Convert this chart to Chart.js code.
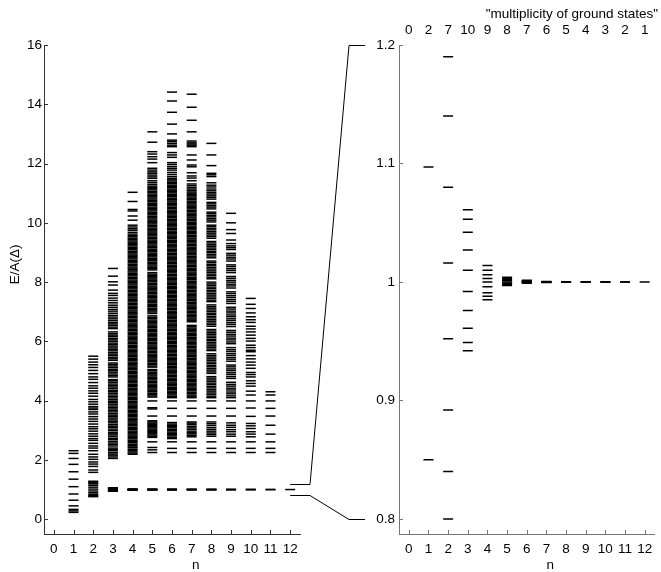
<!DOCTYPE html>
<html>
<head>
<meta charset="utf-8">
<script src="https://cdn.jsdelivr.net/npm/chart.js@4.4.0/dist/chart.umd.min.js"></script>
<style>
  html, body { margin: 0; padding: 0; background: #fff; }
  #wrap { position: relative; width: 661px; height: 572px; }
  #wrap canvas { position: absolute; left: 0; top: 0; }
</style>
</head>
<body>
<div id="wrap">
  <canvas id="full" width="661" height="572"></canvas>
  <canvas id="zoom" width="661" height="572"></canvas>
</div>
<script>
// n (number of particles) and the labels along the axes
const nTicks = [0, 1, 2, 3, 4, 5, 6, 7, 8, 9, 10, 11, 12];
const multiplicity = [0, 2, 7, 10, 9, 8, 7, 6, 5, 4, 3, 2, 1];
const fullTicks = [0, 2, 4, 6, 8, 10, 12, 14, 16];
const zoomTicks = [0.8, 0.9, 1, 1.1, 1.2];

// energy levels E/A(Delta) for each n
const lv0 = [];
const lv1 = [0.23, 0.28, 0.33, 0.45, 0.64, 0.85, 1.097, 1.35, 1.60, 1.85, 2.05, 2.22, 2.31];
const lv2 = [0.76, 0.78, 0.80, 0.84, 0.892, 0.952, 1.016, 1.08, 1.14, 1.19, 1.22, 1.25, 1.28,
  1.58, 1.66, 1.78, 1.86, 1.93, 2.02, 2.10, 2.19, 2.31, 2.40, 2.47, 2.56, 2.66, 2.72, 2.80, 2.88,
  2.97, 3.05, 3.12, 3.21, 3.30, 3.38, 3.46, 3.55, 3.62, 3.70, 3.75, 3.80, 3.88, 3.96, 4.04, 4.15,
  4.25, 4.33, 4.42, 4.50, 4.61, 4.72, 4.80, 4.91, 5.02, 5.12, 5.21, 5.30, 5.40, 5.50];
const lv3 = [0.942, 0.949, 0.961, 0.976, 0.992, 1.010, 1.027, 1.042, 1.053, 1.061,
  2.05, 2.10, 2.16, 2.20, 2.25, 2.31, 2.36, 2.40, 2.47, 2.52, 2.57, 2.62, 2.68, 2.72, 2.78, 2.84,
  2.88, 2.93, 2.99, 3.04, 3.10, 3.14, 3.19, 3.25, 3.30, 3.35, 3.41, 3.46, 3.51, 3.56, 3.62, 3.67,
  3.72, 3.77, 3.82, 3.88, 3.93, 3.98, 4.03, 4.09, 4.14, 4.19, 4.25, 4.30, 4.35, 4.41, 4.46, 4.51,
  4.56, 4.62, 4.67, 4.71, 4.80, 4.85, 4.90, 4.96, 5.01, 5.06, 5.12, 5.17, 5.22, 5.27, 5.36, 5.41,
  5.46, 5.52, 5.57, 5.62, 5.68, 5.73, 5.78, 5.84, 5.89, 5.94, 6.00, 6.05, 6.10, 6.16, 6.21, 6.26,
  6.32, 6.43, 6.48, 6.54, 6.59, 6.64, 6.70, 6.76, 6.82, 6.88, 6.95, 7.02, 7.08, 7.15, 7.22, 7.30,
  7.38, 7.46, 7.55, 7.62, 7.73, 7.90, 8.01, 8.20, 8.46];
const lv4 = [0.985, 0.988, 0.991, 0.996, 1.0, 1.003, 1.006, 1.010, 1.014,
  2.19, 2.23, 2.27, 2.32, 2.36, 2.41, 2.44, 2.49, 2.53, 2.58, 2.62, 2.66, 2.71, 2.75, 2.80, 2.84,
  2.88, 2.93, 2.97, 3.02, 3.06, 3.10, 3.15, 3.19, 3.24, 3.28, 3.32, 3.37, 3.41, 3.46, 3.50, 3.54,
  3.59, 3.63, 3.67, 3.72, 3.76, 3.81, 3.85, 3.89, 3.94, 3.98, 4.03, 4.07, 4.11, 4.16, 4.20, 4.25,
  4.29, 4.33, 4.38, 4.42, 4.47, 4.51, 4.55, 4.60, 4.64, 4.69, 4.73, 4.77, 4.82, 4.86, 4.91, 4.95,
  4.99, 5.04, 5.08, 5.13, 5.17, 5.21, 5.26, 5.30, 5.35, 5.39, 5.43, 5.48, 5.52, 5.57, 5.61, 5.65,
  5.70, 5.74, 5.79, 5.83, 5.87, 5.92, 5.96, 6.01, 6.05, 6.09, 6.14, 6.18, 6.23, 6.27, 6.31, 6.36,
  6.40, 6.45, 6.49, 6.53, 6.58, 6.62, 6.67, 6.71, 6.75, 6.80, 6.84, 6.89, 6.93, 6.97, 7.02, 7.06,
  7.11, 7.15, 7.19, 7.24, 7.28, 7.33, 7.37, 7.41, 7.46, 7.50, 7.55, 7.59, 7.63, 7.68, 7.72, 7.77,
  7.81, 7.85, 7.90, 7.94, 7.99, 8.03, 8.07, 8.12, 8.16, 8.21, 8.25, 8.29, 8.34, 8.38, 8.43, 8.47,
  8.51, 8.56, 8.60, 8.65, 8.69, 8.73, 8.78, 8.82, 8.87, 8.91, 8.95, 9.00, 9.04, 9.09, 9.13, 9.17,
  9.22, 9.26, 9.31, 9.35, 9.39, 9.44, 9.48, 9.53, 9.57, 9.62, 9.68, 9.75, 9.80, 9.86, 9.92,
  10.09, 10.23, 10.40, 10.45, 10.72, 11.03];
const lv5 = [0.997, 0.998, 0.999, 1.0, 1.001, 1.002, 1.003, 1.004,
  2.25, 2.34, 2.42, 2.61, 2.76, 2.80, 2.84, 2.88, 2.92, 2.96, 3.00, 3.04, 3.08, 3.12, 3.16, 3.20,
  3.24, 3.28, 3.32, 3.48, 3.72, 3.76, 3.99,
  4.12, 4.16, 4.21, 4.25, 4.30, 4.34, 4.39, 4.43, 4.47, 4.52, 4.56, 4.61, 4.65, 4.70, 4.74, 4.78,
  4.83, 4.87, 4.92, 4.96, 5.01, 5.05, 5.13, 5.17, 5.22, 5.26, 5.31, 5.35, 5.40, 5.44, 5.48, 5.53,
  5.57, 5.62, 5.66, 5.71, 5.75, 5.79, 5.84, 5.88, 5.93, 5.97, 6.02, 6.06, 6.10, 6.15, 6.19, 6.24,
  6.28, 6.33, 6.37, 6.41, 6.46, 6.50, 6.55, 6.59, 6.64, 6.68, 6.72, 6.77, 6.81, 6.86, 6.94, 6.99,
  7.03, 7.08, 7.12, 7.17, 7.21, 7.25, 7.30, 7.34, 7.39, 7.43, 7.48, 7.52, 7.56, 7.61, 7.65, 7.70,
  7.74, 7.79, 7.83, 7.87, 7.92, 7.96, 8.01, 8.05, 8.10, 8.14, 8.18, 8.23, 8.27, 8.32, 8.41, 8.45,
  8.49, 8.54, 8.58, 8.63, 8.67, 8.72, 8.76, 8.80, 8.85, 8.89, 8.94, 8.98, 9.03, 9.07, 9.11, 9.16,
  9.20, 9.25, 9.29, 9.34, 9.38, 9.42, 9.47, 9.51, 9.56, 9.60, 9.65, 9.69, 9.73, 9.78, 9.82, 9.87,
  9.91, 9.96, 10.00, 10.04, 10.09, 10.13, 10.18, 10.22, 10.27, 10.31, 10.35, 10.40, 10.44, 10.49,
  10.53, 10.58, 10.62, 10.66, 10.71, 10.75, 10.80, 10.84, 10.89, 10.93, 10.97, 11.02, 11.06, 11.11,
  11.15, 11.20, 11.24, 11.30, 11.36, 11.42, 11.50, 11.55, 11.61, 11.67, 11.72, 11.78, 11.84,
  12.03, 12.15, 12.23, 12.32, 12.40, 12.72, 13.07];
const lv6 = [0.999, 0.9995, 1.0, 1.0002, 1.0005, 1.001, 1.0015,
  2.25, 2.39, 2.61, 2.72, 2.76, 2.81, 2.85, 2.90, 2.94, 2.99, 3.03, 3.08, 3.12, 3.17, 3.21, 3.26,
  3.48, 3.74, 3.99,
  4.10, 4.14, 4.19, 4.23, 4.28, 4.32, 4.37, 4.41, 4.45, 4.50, 4.54, 4.59, 4.63, 4.68, 4.72, 4.76,
  4.81, 4.85, 4.90, 4.94, 4.99, 5.03, 5.07, 5.12, 5.16, 5.21, 5.25, 5.30, 5.34, 5.38, 5.43, 5.47,
  5.52, 5.56, 5.61, 5.65, 5.69, 5.74, 5.78, 5.83, 5.87, 5.92, 5.96, 6.00, 6.05, 6.09, 6.14, 6.18,
  6.23, 6.27, 6.31, 6.36, 6.40, 6.45, 6.49, 6.54, 6.58, 6.62, 6.67, 6.71, 6.76, 6.80, 6.85, 6.89,
  6.93, 6.98, 7.02, 7.07, 7.11, 7.16, 7.20, 7.24, 7.29, 7.33, 7.38, 7.42, 7.47, 7.51, 7.55, 7.60,
  7.64, 7.69, 7.73, 7.78, 7.82, 7.86, 7.91, 7.95, 8.00, 8.04, 8.09, 8.13, 8.17, 8.22, 8.26, 8.31,
  8.35, 8.40, 8.44, 8.48, 8.53, 8.57, 8.62, 8.66, 8.71, 8.75, 8.79, 8.84, 8.88, 8.93, 8.97, 9.02,
  9.06, 9.10, 9.15, 9.19, 9.24, 9.28, 9.33, 9.37, 9.41, 9.46, 9.50, 9.55, 9.59, 9.64, 9.68, 9.72,
  9.77, 9.81, 9.86, 9.90, 9.95, 9.99, 10.03, 10.08, 10.12, 10.17, 10.21, 10.26, 10.30, 10.34,
  10.39, 10.43, 10.48, 10.52, 10.57, 10.61, 10.65, 10.70, 10.74, 10.79, 10.83, 10.88, 10.92,
  10.96, 11.01, 11.05, 11.10, 11.14, 11.19, 11.23, 11.27, 11.32, 11.36, 11.41, 11.45, 11.50,
  11.56, 11.63, 11.70, 11.78, 11.84, 11.90, 11.97, 12.03, 12.21, 12.29, 12.37, 12.57, 12.62,
  12.68, 12.74, 12.79, 13.00, 13.33, 13.73, 14.11, 14.41];
const lv7 = [0.9995, 0.9998, 1.0, 1.0001, 1.0002, 1.0005,
  2.25, 2.39, 2.61, 2.78, 2.83, 2.88, 2.92, 2.97, 3.03, 3.08, 3.13, 3.19, 3.24, 3.28, 3.48, 3.74,
  3.99,
  4.10, 4.15, 4.19, 4.24, 4.28, 4.33, 4.37, 4.41, 4.46, 4.50, 4.55, 4.59, 4.64, 4.68, 4.72, 4.77,
  4.81, 4.86, 4.90, 4.95, 4.99, 5.03, 5.08, 5.12, 5.17, 5.21, 5.26, 5.30, 5.34, 5.39, 5.43, 5.48,
  5.52, 5.57, 5.61, 5.65, 5.70, 5.74, 5.79, 5.83, 5.88, 5.92, 5.96, 6.01, 6.05, 6.10, 6.14, 6.19,
  6.23, 6.27, 6.32, 6.36, 6.41, 6.45, 6.50, 6.54, 6.66, 6.70, 6.75, 6.79, 6.84, 6.88, 6.92, 6.97,
  7.01, 7.06, 7.10, 7.15, 7.19, 7.23, 7.28, 7.32, 7.37, 7.41, 7.46, 7.50, 7.54, 7.59, 7.63, 7.68,
  7.72, 7.77, 7.81, 7.85, 7.90, 7.94, 7.99, 8.03, 8.08, 8.12, 8.16, 8.21, 8.25, 8.30, 8.34, 8.39,
  8.43, 8.47, 8.52, 8.56, 8.61, 8.65, 8.70, 8.74, 8.78, 8.83, 8.87, 8.92, 8.96, 9.01, 9.05, 9.09,
  9.14, 9.18, 9.23, 9.27, 9.32, 9.36, 9.40, 9.45, 9.49, 9.54, 9.58, 9.63, 9.67, 9.71, 9.76, 9.80,
  9.85, 9.89, 9.94, 9.98, 10.02, 10.07, 10.11, 10.16, 10.20, 10.25, 10.29, 10.33, 10.38, 10.42,
  10.47, 10.51, 10.56, 10.60, 10.64, 10.69, 10.73, 10.78, 10.82, 10.87, 10.91, 10.95, 11.00,
  11.04, 11.09, 11.14, 11.19, 11.25, 11.31, 11.42, 11.51, 11.58, 11.69, 11.89, 11.95, 12.12,
  12.29, 12.57, 12.62, 12.66, 12.70, 12.76, 13.07, 13.46, 13.90, 14.34];
const lv8 = [0.9998, 1.0, 1.0, 1.0, 1.0002,
  2.25, 2.39, 2.61, 2.80, 2.86, 2.91, 2.97, 3.03, 3.09, 3.16, 3.22, 3.28, 3.48, 3.74, 3.99,
  4.10, 4.15, 4.21, 4.26, 4.32, 4.37, 4.43, 4.48, 4.54, 4.59, 4.65, 4.70, 4.76, 4.81, 4.92, 4.97,
  5.03, 5.08, 5.14, 5.19, 5.25, 5.30, 5.36, 5.41, 5.47, 5.52, 5.58, 5.69, 5.74, 5.80, 5.85, 5.91,
  5.96, 6.02, 6.07, 6.13, 6.18, 6.24, 6.29, 6.35, 6.40, 6.51, 6.57, 6.62, 6.68, 6.73, 6.79, 6.84,
  6.90, 6.95, 7.01, 7.06, 7.12, 7.17, 7.23, 7.34, 7.39, 7.45, 7.50, 7.56, 7.61, 7.67, 7.72, 7.78,
  7.83, 7.89, 7.94, 8.00, 8.11, 8.16, 8.22, 8.27, 8.33, 8.38, 8.44, 8.49, 8.55, 8.60, 8.66, 8.71,
  8.82, 8.88, 8.93, 8.99, 9.04, 9.10, 9.15, 9.21, 9.26, 9.32, 9.37, 9.48, 9.54, 9.59, 9.65, 9.70,
  9.76, 9.81, 9.87, 9.92, 10.03, 10.09, 10.14, 10.20, 10.25, 10.31, 10.36, 10.47, 10.53, 10.58,
  10.64, 10.69, 10.80, 10.86, 10.91, 10.97, 11.02, 11.08, 11.14, 11.21, 11.27, 11.35, 11.56,
  11.62, 11.67, 11.93, 12.29, 12.68];
const lv9 = [1.0, 1.0, 1.0, 1.0,
  2.25, 2.39, 2.61, 2.80, 2.87, 2.95, 3.02, 3.10, 3.17, 3.25, 3.48, 3.74, 3.99,
  4.10, 4.16, 4.23, 4.29, 4.36, 4.42, 4.49, 4.55, 4.62, 4.75, 4.81, 4.88, 4.94, 5.01, 5.07, 5.14,
  5.20, 5.33, 5.40, 5.46, 5.53, 5.59, 5.66, 5.72, 5.79, 5.92, 5.98, 6.05, 6.11, 6.18, 6.24, 6.31,
  6.37, 6.50, 6.57, 6.63, 6.70, 6.76, 6.83, 6.89, 6.96, 7.02, 7.09, 7.15, 7.28, 7.35, 7.41, 7.48,
  7.54, 7.61, 7.67, 7.80, 7.87, 7.93, 8.00, 8.06, 8.13, 8.19, 8.32, 8.39, 8.45, 8.52, 8.58, 8.71,
  8.78, 8.84, 8.91, 8.97, 9.10, 9.16, 9.22, 9.30, 9.42, 9.64, 9.77, 10.00, 10.32];
const lv10 = [1.0, 1.0, 1.0,
  2.25, 2.39, 2.61, 2.78, 2.87, 2.95, 3.06, 3.15, 3.23, 3.47, 3.75, 3.99, 4.19, 4.32, 4.49, 4.58,
  4.67, 4.80, 4.88, 4.95, 5.09, 5.20, 5.30, 5.41, 5.52, 5.65, 5.70, 5.79, 5.87, 6.01, 6.10, 6.21,
  6.32, 6.42, 6.51, 6.64, 6.73, 6.83, 6.96, 7.11, 7.25, 7.45];
const lv11 = [1.0, 1.0, 2.25, 2.39, 2.61, 2.87, 3.17, 3.48, 3.74, 3.99, 4.19, 4.30];
const lv12 = [1.0];

const levels = [lv0, lv1, lv2, lv3, lv4, lv5, lv6, lv7, lv8, lv9, lv10, lv11, lv12];

const font = { family: "'Liberation Sans', Arial, sans-serif", size: 13.5 };

function makeDatasets() {
  return levels.map((lv, n) => ({
    label: 'n = ' + n,
    data: lv.map(e => ({ x: n, y: e })),
    pointStyle: 'line',
    pointRadius: 5,
    pointBorderWidth: 1.5,
    pointBorderColor: '#000',
    pointBackgroundColor: '#000',
    clip: 0,
  }));
}

function fixedTicks(list) {
  return scale => { scale.ticks = list.map(v => ({ value: v })); };
}

// MATLAB style ticks pointing into the axes
const inwardTicks = {
  id: 'inwardTicks',
  afterDraw(chart, args, opts) {
    const { ctx, chartArea: a } = chart;
    const { x, y } = chart.scales;
    ctx.save();
    ctx.strokeStyle = opts.color;
    ctx.lineWidth = 1;
    ctx.beginPath();
    x.ticks.forEach(t => {
      const px = Math.round(x.getPixelForValue(t.value)) + 0.5;
      ctx.moveTo(px, a.bottom);
      ctx.lineTo(px, a.bottom - 4);
    });
    y.ticks.forEach(t => {
      const py = Math.round(y.getPixelForValue(t.value)) + 0.5;
      ctx.moveTo(a.left, py);
      ctx.lineTo(a.left + 4, py);
    });
    ctx.stroke();
    ctx.restore();
  }
};

// axis titles placed where the original figure has them
const titles = {
  id: 'titles',
  afterDraw(chart, args, opts) {
    const { ctx } = chart;
    const { x, y } = chart.scales;
    ctx.save();
    ctx.fillStyle = '#000';
    ctx.font = font.size + 'px ' + font.family;
    ctx.textAlign = 'center';
    ctx.textBaseline = 'middle';
    ctx.fillText('n', x.getPixelForValue(opts.nAt), chart.chartArea.bottom + 31);
    if (opts.yTitle) {
      ctx.translate(15, y.getPixelForValue(opts.yTitleAt));
      ctx.rotate(-Math.PI / 2);
      ctx.fillText(opts.yTitle, 0, 0);
    }
    if (opts.topTitle) {
      ctx.fillText(opts.topTitle, x.getPixelForValue(opts.topAt), 14);
    }
    ctx.restore();
  }
};

function xScale(color) {
  return {
    type: 'linear', min: -0.5, max: 12.5,
    afterBuildTicks: fixedTicks(nTicks),
    afterFit: s => { s.height = 38; },
    grid: { display: false, drawTicks: false },
    border: { display: true, color: color, width: 1 },
    ticks: { color: '#000', font: font, padding: 7, autoSkip: false, maxRotation: 0,
      callback: v => String(v) }
  };
}

const fullChart = new Chart(document.getElementById('full'), {
  type: 'scatter',
  data: { datasets: makeDatasets() },
  plugins: [inwardTicks, titles],
  options: {
    responsive: false,
    animation: false,
    events: [],
    layout: { padding: { left: 0, top: 45, right: 361, bottom: 0 } },
    plugins: {
      legend: { display: false },
      tooltip: { enabled: false },
      inwardTicks: { color: '#333' },
      titles: { nAt: 7.2, yTitle: 'E/A(\u0394)', yTitleAt: 8.6 }
    },
    scales: {
      x: xScale('#333'),
      y: {
        type: 'linear', min: -0.5, max: 16,
        afterBuildTicks: fixedTicks(fullTicks),
        afterFit: s => { s.width = 44; },
        grid: { display: false, drawTicks: false },
        border: { display: true, color: '#333', width: 1 },
        ticks: { color: '#000', font: font, padding: 2, callback: v => String(v) }
      }
    }
  }
});

// lines joining the 0.8..1.2 window of the left panel to the right panel
const connectors = {
  id: 'connectors',
  afterDraw(chart) {
    const { ctx } = chart;
    const ly = fullChart.scales.y, ry = chart.scales.y;
    const x0 = fullChart.scales.x.getPixelForValue(12);
    const x1 = fullChart.chartArea.right + 10;
    const x2 = chart.chartArea.left - 50;
    const x3 = chart.chartArea.left - 34;
    const lo = zoomTicks[0], hi = zoomTicks[zoomTicks.length - 1];
    ctx.save();
    ctx.strokeStyle = '#000';
    ctx.lineWidth = 1;
    ctx.beginPath();
    [hi, lo].forEach(v => {
      const a = Math.round(ly.getPixelForValue(v)) + 0.5;
      const b = Math.round(ry.getPixelForValue(v)) + 0.5;
      ctx.moveTo(x0, a);
      ctx.lineTo(x1, a);
      ctx.lineTo(x2, b);
      ctx.lineTo(x3, b);
    });
    ctx.stroke();
    ctx.restore();
  }
};

const zoomChart = new Chart(document.getElementById('zoom'), {
  type: 'scatter',
  data: { datasets: makeDatasets() },
  plugins: [inwardTicks, titles, connectors],
  options: {
    responsive: false,
    animation: false,
    events: [],
    layout: { padding: { left: 355, top: 0, right: 6, bottom: 0 } },
    plugins: {
      legend: { display: false },
      tooltip: { enabled: false },
      inwardTicks: { color: '#777' },
      titles: { nAt: 7.2, topTitle: '"multiplicity of ground states"', topAt: 8.3 }
    },
    scales: {
      x: xScale('#777'),
      xTop: {
        type: 'linear', axis: 'x', position: 'top', min: -0.5, max: 12.5,
        afterBuildTicks: fixedTicks(nTicks),
        afterFit: s => { s.height = 45; },
        grid: { display: false, drawTicks: false },
        border: { display: false },
        ticks: { color: '#000', font: font, padding: 7, autoSkip: false, maxRotation: 0,
          callback: (v, i) => String(multiplicity[i]) }
      },
      y: {
        type: 'linear', min: 0.7873, max: 1.2,
        afterBuildTicks: fixedTicks(zoomTicks),
        afterFit: s => { s.width = 44; },
        grid: { display: false, drawTicks: false },
        border: { display: true, color: '#777', width: 1 },
        ticks: { color: '#000', font: font, padding: 4, callback: v => String(v) }
      }
    }
  }
});
</script>
</body>
</html>
